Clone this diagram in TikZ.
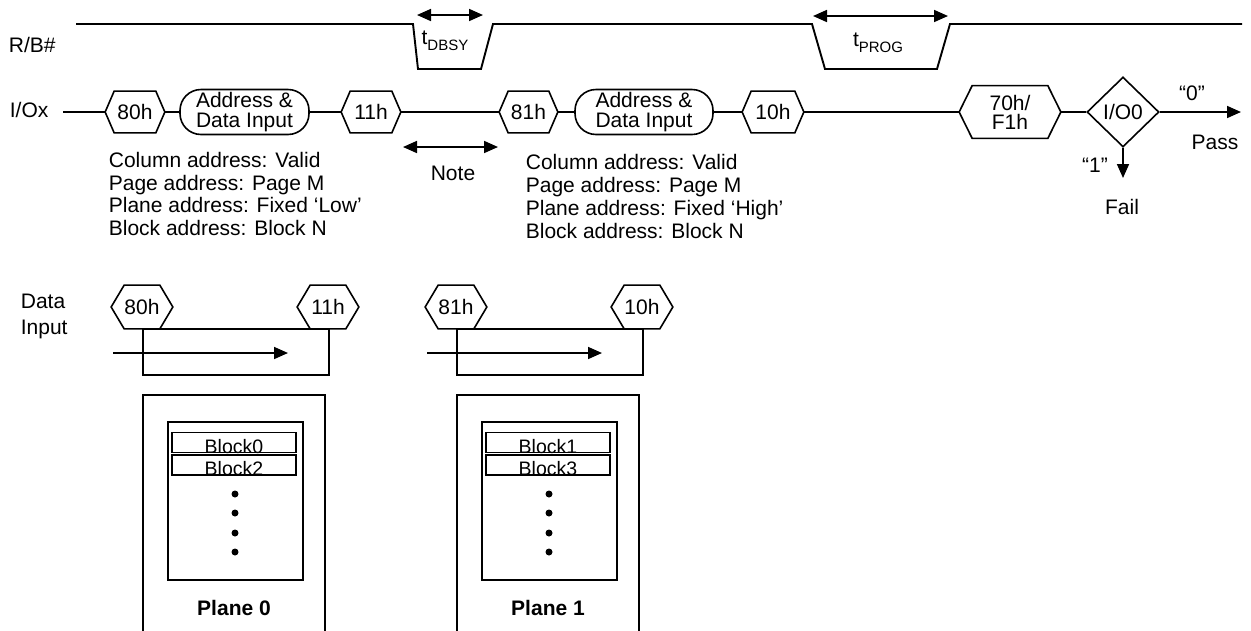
\documentclass[tikz,border=0pt]{standalone}
\usepackage{fontspec}
\setmainfont{Liberation Sans}
\usetikzlibrary{arrows.meta,shapes.geometric}
\newcommand\myfs{\fontsize{21}{22.7}\selectfont}
\newcommand\mysub[1]{\raisebox{-0.28em}{\fontsize{15}{15}\selectfont #1}}
\begin{document}
\begin{tikzpicture}[x=1pt,y=-1pt,
  line width=1.7pt,
  >={Triangle[length=14pt,width=12pt]},
  lbl/.style={inner sep=0pt, font=\myfs},
  hexdraw/.style={append after command={\pgfextra{\draw[line width=1.6pt, line join=miter]
      (\tikzlastnode.west) -- ([xshift=#1]\tikzlastnode.north west)
      -- ([xshift=-#1]\tikzlastnode.north east) -- (\tikzlastnode.east)
      -- ([xshift=-#1]\tikzlastnode.south east) -- ([xshift=#1]\tikzlastnode.south west) -- cycle;}}},
  hexa/.style={inner sep=0pt, font=\myfs, minimum width=58pt, minimum height=40pt, hexdraw=9pt},
  hexb/.style={inner sep=0pt, font=\fontsize{21}{19}\selectfont, align=center, minimum width=100pt, minimum height=51pt, hexdraw=13pt},
  hexc/.style={inner sep=0pt, font=\myfs, minimum width=60pt, minimum height=42pt, hexdraw=13pt},
  addr/.style={draw, line width=1.6pt, rounded corners=21pt, inner sep=0pt, minimum height=45pt, align=center, font=\fontsize{21}{20.5}\selectfont},
  bbox/.style={draw, inner sep=0pt, minimum width=186pt, minimum height=46pt, anchor=north west},
  inbox/.style={draw, inner sep=0pt, minimum width=135pt, minimum height=158pt, anchor=north west},
  blk/.style={draw, inner sep=0pt, minimum width=124pt, minimum height=20pt},
  btxt/.style={inner sep=0pt, font=\fontsize{19.5}{20}\selectfont, anchor=base},
  dotn/.style={circle, fill, inner sep=0pt, minimum size=7pt},
  txtblock/.style={inner sep=0pt, font=\myfs, align=left, anchor=west},
  pl/.style={inner sep=0pt, font=\bfseries\fontsize{21}{22}\selectfont}
]
\useasboundingbox (0,0) rectangle (1251,630);

% ---------- R/B# waveform ----------
\node[lbl, anchor=west] (rbl) at (8,45) {R/B\#};
\draw[line width=1.9pt, line join=miter] (76,24) -- (413,24) -- (418,69) -- (481,69) -- (493,24)
  -- (812,24) -- (825,69) -- (937,69) -- (950,24) -- (1242,24);
\coordinate (dbA) at (417,15);
\coordinate (dbB) at (483,15);
\draw[<->] (dbA) -- (dbB);
\node[lbl] (tdbsy) at (445,41) {t\mysub{DBSY}};
\coordinate (pgA) at (813,16);
\coordinate (pgB) at (948,16);
\draw[<->] (pgA) -- (pgB);
\node[lbl] (tprog) at (878,43) {t\mysub{PROG}};

% ---------- I/Ox row ----------
\node[lbl, anchor=west] (iol) at (9,110) {I/Ox};
\coordinate (ios) at (63,112);
\node[hexa] (h1) at (135,112) {80h};
\node[addr, minimum width=129pt] (a1) at (244.5,112) {Address \&\\Data Input};
\node[hexa] (h2) at (371,112) {11h};
\node[hexa, minimum width=57pt] (h3) at (528.5,112) {81h};
\node[addr, minimum width=138pt] (a2) at (644,112) {Address \&\\Data Input};
\node[hexa, minimum width=60pt] (h4) at (773,112) {10h};
\node[hexb] (h5) at (1010,112) {70h/\\F1h};
\node[diamond, draw, line width=1.6pt, minimum width=72pt, minimum height=70pt, inner sep=0pt, font=\myfs] (dia) at (1123,112) {I/O0};
\coordinate (pass) at (1241,112);
\coordinate (fail) at (1123,178);

\draw (ios) -- (h1.west);
\draw (h1.east) -- (a1.west);
\draw (a1.east) -- (h2.west);
\draw (h2.east) -- (h3.west);
\draw (h3.east) -- (a2.west);
\draw (a2.east) -- (h4.west);
\draw (h4.east) -- (h5.west);
\draw (h5.east) -- (dia.west);
\draw[->] (dia.east) -- (pass);
\draw[->] (dia.south) -- (fail);

\node[lbl] (q0) at (1192,93) {“0”};
\node[lbl] (passl) at (1215,142) {Pass};
\node[lbl] (q1) at (1095,165) {“1”};
\node[lbl] (faill) at (1122,207) {Fail};

% Note
\coordinate (nA) at (403,147);
\coordinate (nB) at (498,147);
\draw[<->] (nA) -- (nB);
\node[lbl] (note) at (453,173) {Note};

% address text blocks
\node[txtblock] (ta) at (108,194) {Column address: Valid\\Page address: Page M\\Plane address: Fixed ‘Low’\\Block address: Block N};
\node[txtblock] (tb) at (525,196.5) {Column address: Valid\\Page address: Page M\\Plane address: Fixed ‘High’\\Block address: Block N};

% ---------- Data input ----------
\node[txtblock, font=\fontsize{21}{26}\selectfont] (din) at (20,316) {Data\\Input};

% group 0
\node[bbox] (bx0) at (142,328) {};
\node[hexc] (bh0a) at (142,307) {80h};
\node[hexc] (bh0b) at (328,307) {11h};
\coordinate (ar0s) at (113,353);
\coordinate (ar0e) at (288,353);
\draw[->] (ar0s) -- (ar0e);

% group 1
\node[bbox] (bx1) at (456,328) {};
\node[hexc] (bh1a) at (456,307) {81h};
\node[hexc] (bh1b) at (642,307) {10h};
\coordinate (ar1s) at (427,353);
\coordinate (ar1e) at (602,353);
\draw[->] (ar1s) -- (ar1e);

% ---------- Plane 0 ----------
\draw[line join=miter] (143,633) -- (143,395) -- (325,395) -- (325,633);
\node[inbox] (in0) at (167,421) {};
\node[blk] (b0) at (234,442.5) {};
\node[blk] (b2) at (234,465) {};
\node[btxt] (b0t) at (b0.south) {Block0};
\node[btxt] (b2t) at (b2.south) {Block2};
\node[dotn] (p0d1) at (235,494) {};
\node[dotn] (p0d2) at (235,513) {};
\node[dotn] (p0d3) at (235,533) {};
\node[dotn] (p0d4) at (235,552) {};
\node[pl] (pl0) at (234,608) {Plane 0};

% ---------- Plane 1 ----------
\draw[line join=miter] (457,633) -- (457,395) -- (639,395) -- (639,633);
\node[inbox] (in1) at (481,421) {};
\node[blk] (b1) at (548,442.5) {};
\node[blk] (b3) at (548,465) {};
\node[btxt] (b1t) at (b1.south) {Block1};
\node[btxt] (b3t) at (b3.south) {Block3};
\node[dotn] (p1d1) at (549,494) {};
\node[dotn] (p1d2) at (549,513) {};
\node[dotn] (p1d3) at (549,533) {};
\node[dotn] (p1d4) at (549,552) {};
\node[pl] (pl1) at (548,608) {Plane 1};
\end{tikzpicture}
\end{document}
